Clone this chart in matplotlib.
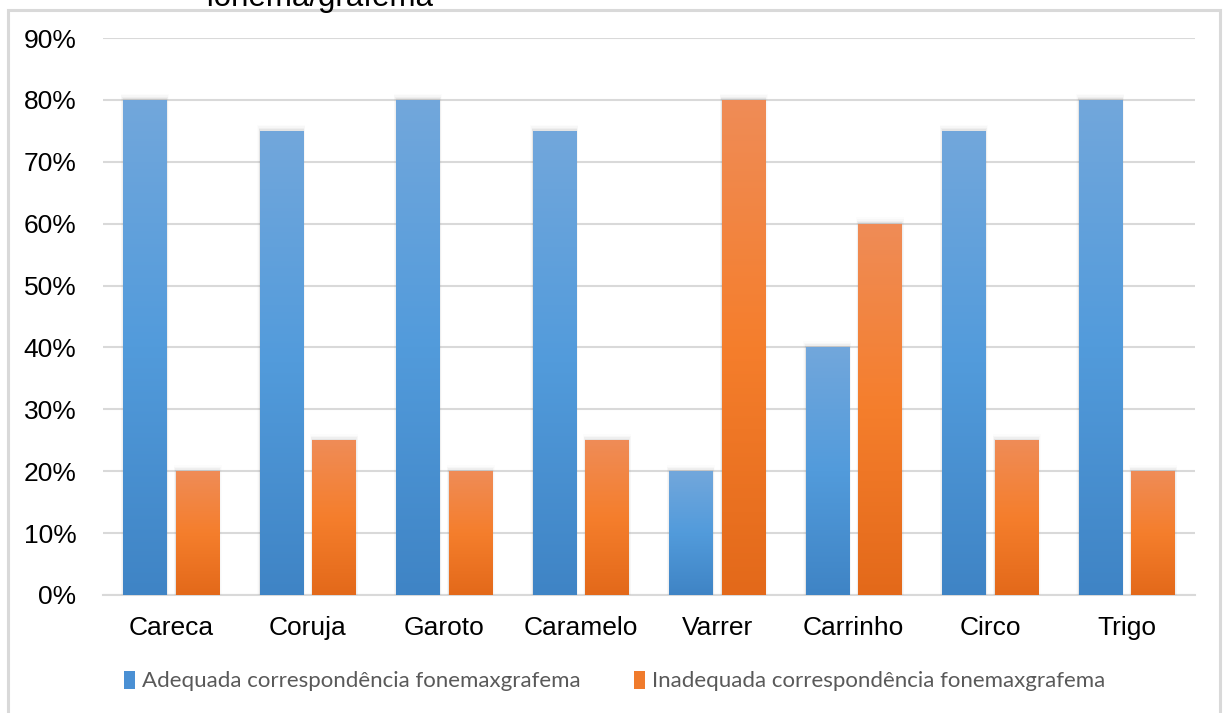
import numpy as np
import matplotlib
matplotlib.use("Agg")
import matplotlib.pyplot as plt
from matplotlib.patches import Rectangle, Patch
from matplotlib.colors import LinearSegmentedColormap

# Data
categories = ["Careca", "Coruja", "Garoto", "Caramelo", "Varrer", "Carrinho", "Circo", "Trigo"]
adequada = [0.80, 0.75, 0.80, 0.75, 0.20, 0.40, 0.75, 0.80]
inadequada = [0.20, 0.25, 0.20, 0.25, 0.80, 0.60, 0.25, 0.20]
series_labels = ["Adequada correspondência fonemaxgrafema",
                 "Inadequada correspondência fonemaxgrafema"]
yticks = [0, 0.1, 0.2, 0.3, 0.4, 0.5, 0.6, 0.7, 0.8, 0.9]
ytick_labels = ["0%", "10%", "20%", "30%", "40%", "50%", "60%", "70%", "80%", "90%"]

W, H = 1225, 713
fig = plt.figure(figsize=(W / 100, H / 100), dpi=100)
fig.patch.set_facecolor("white")

ax = fig.add_axes([103 / W, 1 - 595 / H, (1195 - 103) / W, (595 - 38) / H])
ax.set_xlim(-0.5, len(categories) - 0.5)
ax.set_ylim(0, 0.9)

blue_cmap = LinearSegmentedColormap.from_list(
    "blue", ["#3f84c5", "#529bdb", "#72a7dc"])
orange_cmap = LinearSegmentedColormap.from_list(
    "orange", ["#e3691a", "#f57e2c", "#ef8c57"])

bar_w = 0.32
gap = 0.065
x = np.arange(len(categories))
grad = np.linspace(0, 1, 256).reshape(-1, 1)


def draw_bars(xpos, values, cmap, fallback):
    bars = ax.bar(xpos, values, width=bar_w, color=fallback, zorder=3)
    for b in bars:
        x0, y0 = b.get_x(), b.get_y()
        w, h = b.get_width(), b.get_height()
        # soft shadow
        for i, a in enumerate([0.10, 0.06, 0.035, 0.02]):
            dx = 0.004 * (i + 1)
            ax.add_patch(Rectangle((x0 - dx, y0), w + 2 * dx, h + 0.0025 * (i + 1),
                                   facecolor="#808080", edgecolor="none",
                                   alpha=a, zorder=2))
        b.set_facecolor("none")
        b.set_edgecolor("none")
        im = ax.imshow(grad, cmap=cmap, aspect="auto", origin="lower",
                       extent=(x0, x0 + w, y0, y0 + h), zorder=3,
                       interpolation="bilinear")
        im.set_clip_path(b)


draw_bars(x - gap / 2 - bar_w / 2, adequada, blue_cmap, "#4a90d4")
draw_bars(x + gap / 2 + bar_w / 2, inadequada, orange_cmap, "#f07b2c")
ax.set_xlim(-0.5, len(categories) - 0.5)
ax.set_ylim(0, 0.9)

# grid and axes styling
ax.set_yticks(yticks)
ax.set_yticklabels(ytick_labels, fontsize=19, family="Liberation Sans", color="#000000")
ax.set_xticks(x)
ax.set_xticklabels(categories, fontsize=19, family="Liberation Sans", color="#000000")
ax.tick_params(axis="both", length=0)
ax.tick_params(axis="y", pad=19)
ax.tick_params(axis="x", pad=15)
ax.yaxis.grid(True, color="#d9d9d9", linewidth=1.5, zorder=0)
ax.set_axisbelow(True)
for s in ["top", "right", "left"]:
    ax.spines[s].set_visible(False)
ax.spines["bottom"].set_color("#d9d9d9")
ax.spines["bottom"].set_linewidth(1.5)
ax.spines["bottom"].set_zorder(1)
ax.set_facecolor("none")

# legend
handles = [Patch(facecolor="#4a90d4", edgecolor="none"),
           Patch(facecolor="#f07b2c", edgecolor="none")]
leg = fig.legend(handles, series_labels, loc="center left",
                 bbox_to_anchor=(104 / W, 1 - 681 / H), ncol=2, frameon=False,
                 prop={"family": ["Lato", "Open Sans"], "size": 16},
                 handlelength=0.5, handleheight=0.9, handletextpad=0.3,
                 columnspacing=2.4, labelcolor="#595959")

# chart frame
fig.patches.append(Rectangle((8 / W, -0.05), (1220 - 8) / W, 1.05 - 10 / H,
                             transform=fig.transFigure, facecolor="none",
                             edgecolor="#d9d9d9", linewidth=2.2, zorder=0))

# title (partially outside the canvas)
fig.text(205 / W, 1 - 6 / H, "fonema/grafema", fontsize=22.5,
         family="Liberation Sans", color="#000000", va="baseline", ha="left")

fig.savefig("out.png", dpi=100)
